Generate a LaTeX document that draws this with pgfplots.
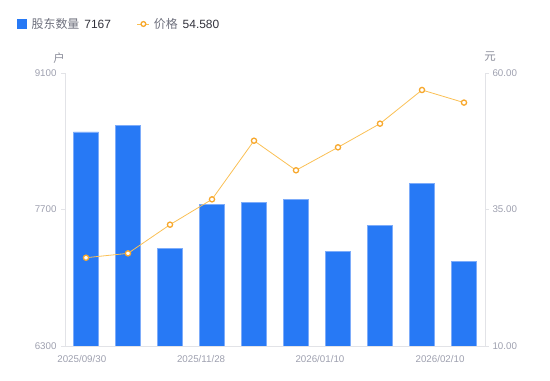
\documentclass[border=0pt]{standalone}
\usepackage{pgfplots}
\pgfplotsset{compat=1.18}
\usepackage{fontspec}
\setmainfont{Liberation Sans}
\newfontfamily\cjk{Noto Sans CJK SC}
\definecolor{barblue}{RGB}{39,121,245}
\definecolor{baredge}{RGB}{125,172,250}
\definecolor{lineor}{RGB}{250,192,85}
\definecolor{markor}{RGB}{247,168,45}
\definecolor{axgray}{RGB}{226,227,231}
\definecolor{tickgray}{RGB}{158,160,175}
\definecolor{unitgray}{RGB}{140,142,155}
\definecolor{txtdark}{RGB}{50,50,60}
\definecolor{legtxt}{RGB}{110,112,125}
\begin{document}
\begin{tikzpicture}
\path[use as bounding box] (0,0) rectangle (550bp,381bp);
\pgfplotsset{base/.style={
  at={(65bp,35bp)}, anchor=south west, scale only axis,
  width=420bp, height=273bp, xmin=-0.5, xmax=9.5,
  axis line style={draw=axgray, line width=0.8bp},
  tick style={draw=axgray, line width=0.8bp},
  tick align=outside, major tick length=4bp,
  ticklabel style={font=\fontsize{9.8}{11}\selectfont, text=tickgray},
  /pgf/number format/assume math mode=true,
  /pgf/number format/1000 sep={},
  clip mode=individual,
}}
\begin{axis}[base,
  ymin=6300, ymax=9100, ytick={6300,7700,9100},
  axis y line*=left, axis x line*=bottom,
  xtick={-0.1,2.74,5.57,8.43},
  xticklabels={2025/09/30,2025/11/28,2026/01/10,2026/02/10},
  xtick style={draw=none},
  xticklabel style={yshift=-1.5bp},
  yticklabel style={xshift=-1bp},
  ybar, bar width=25bp,
]
\addplot[fill=barblue, draw=baredge, line width=0.6bp] coordinates {
 (0,8495) (1,8564) (2,7298) (3,7753) (4,7773) (5,7800) (6,7267) (7,7541) (8,7965) (9,7167)};
\node[text=unitgray, font=\cjk\fontsize{11.5}{13}\selectfont] at (rel axis cs:0,1) [xshift=-6bp, yshift=15bp] {户};
\node[text=unitgray, font=\cjk\fontsize{11.5}{13}\selectfont] at (rel axis cs:1,1) [xshift=5bp, yshift=16bp] {元};
\end{axis}
\begin{axis}[base,
  ymin=10, ymax=60, ytick={10,35,60},
  axis y line*=right, axis x line=none,
  yticklabel style={/pgf/number format/.cd, fixed, fixed zerofill, precision=2},
  legend columns=2,
  legend style={at={(-0.1143,1.1795)}, anchor=west, draw=none, fill=none,
    inner sep=0pt, nodes={inner sep=0pt, anchor=west},
    font=\fontsize{12}{13}\selectfont, text=legtxt},
]
\addlegendimage{legend image code/.code={\fill[barblue] (0bp,-4.5bp) rectangle (8.5bp,4.5bp); \path (14bp,0);}}
\addlegendentry{{\cjk 股东数量}\hspace{5bp}{\color{txtdark}7167}\hspace*{26bp}\null}
\addplot[lineor, line width=0.8bp, mark=*, mark size=2.6bp,
  mark options={fill=white, draw=markor, line width=1.3bp},
  legend image code/.code={\draw[lineor, line width=0.8bp] (0bp,0)--(12bp,0);
    \draw[markor, fill=white, line width=1.3bp] (6bp,0) circle (2.4bp); \path (16bp,0);}]
 coordinates {(0,26.17) (1,26.97) (2,32.22) (3,36.86) (4,47.6) (5,42.18) (6,46.39) (7,50.72) (8,56.89) (9,54.58)};
\addlegendentry{{\cjk 价格}\hspace{5bp}{\color{txtdark}54.580}}
\end{axis}
\end{tikzpicture}
\end{document}
